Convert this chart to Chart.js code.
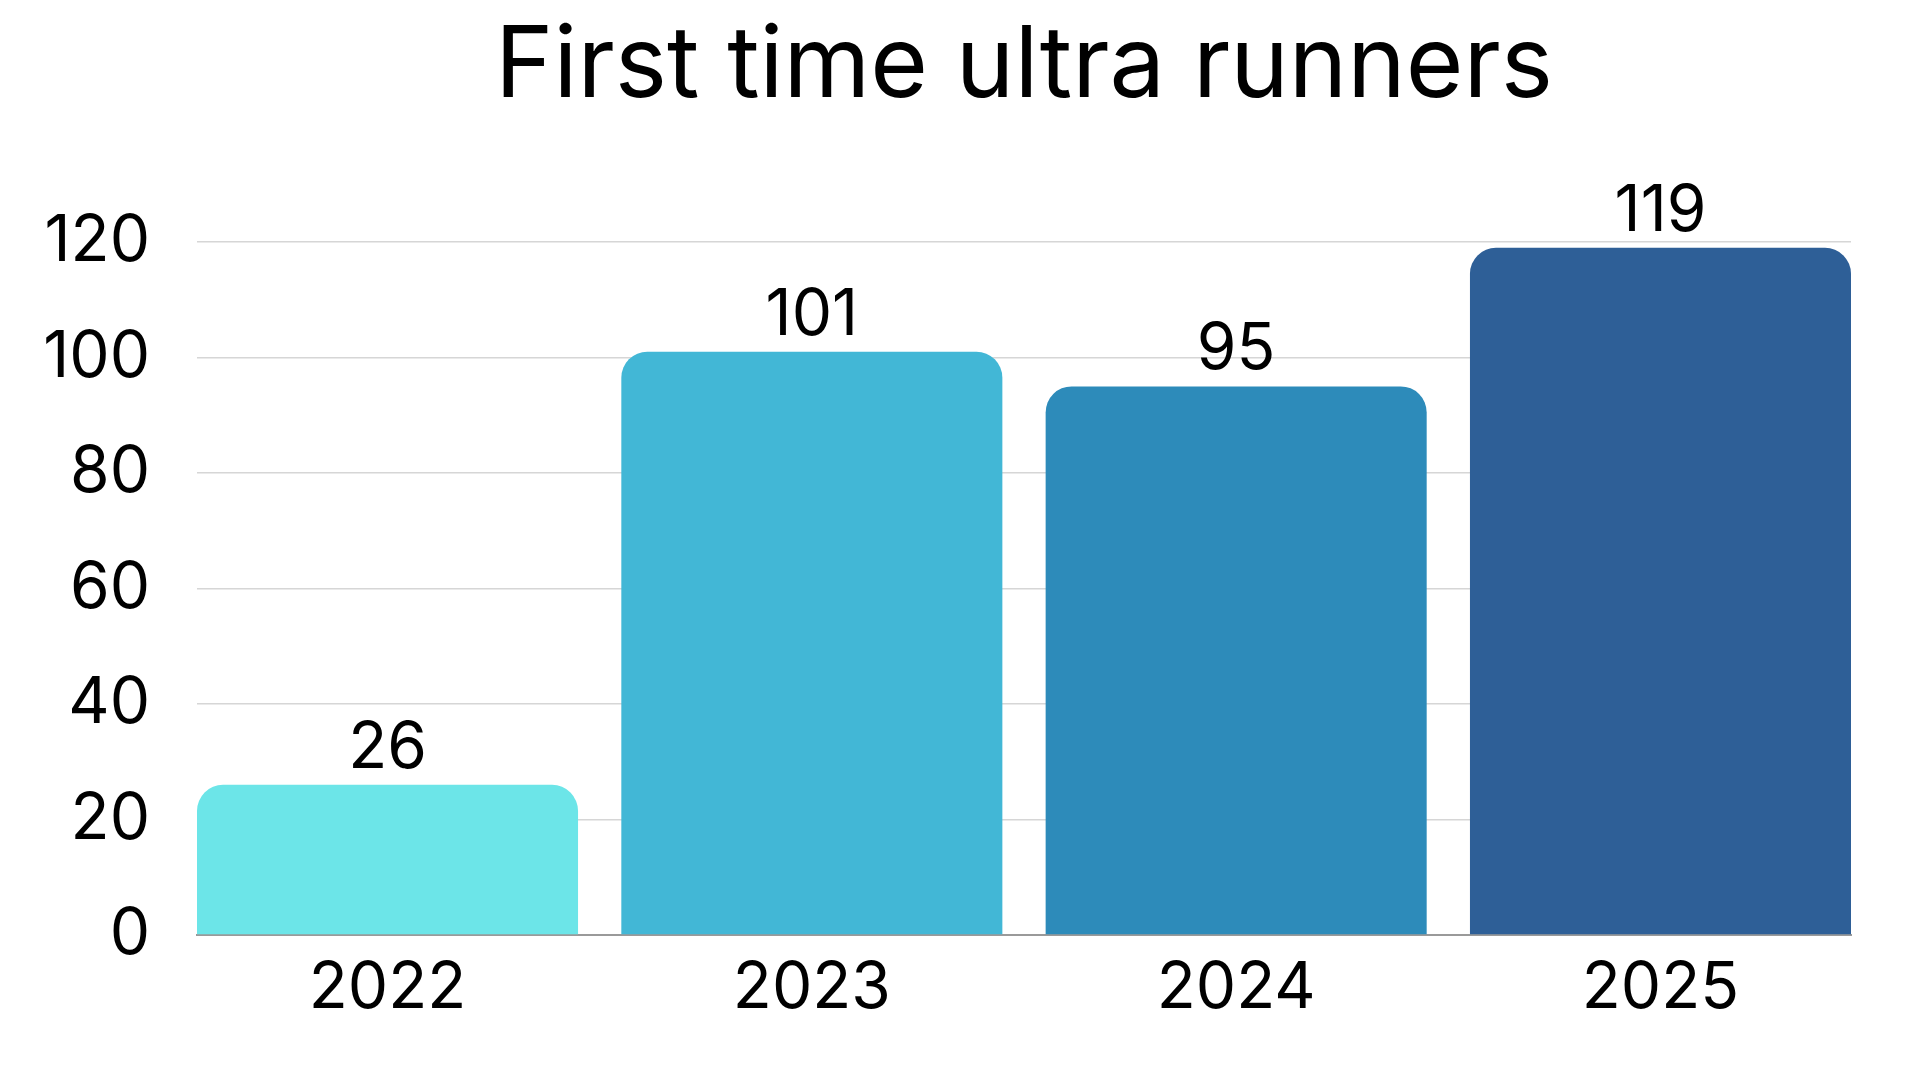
<!DOCTYPE html>
<html>
<head>
<meta charset="utf-8">
<script src="https://cdn.jsdelivr.net/npm/chart.js@4.4.1/dist/chart.umd.min.js"></script>
<style>
  html, body { margin: 0; padding: 0; background: #ffffff; }
  #wrap { width: 1920px; height: 1080px; position: relative; }
</style>
</head>
<body>
<div id="wrap"><canvas id="c" width="1920" height="1080"></canvas></div>
<script>
const chartTitle = "First time ultra runners";
const categories = ["2022", "2023", "2024", "2025"];
const runners = [26, 101, 95, 119];
const barColors = ["#6ce5e8", "#42b7d6", "#2d8bba", "#2e5f97"];
const yTicks = [0, 20, 40, 60, 80, 100, 120];

const FONT = "Inter, 'Open Sans', sans-serif";
const BAR_FRACTION = 0.898;

const valueLabels = {
  id: 'valueLabels',
  afterDatasetsDraw(chart) {
    const ctx = chart.ctx;
    const meta = chart.getDatasetMeta(0);
    ctx.save();
    ctx.font = "64px " + FONT;
    ctx.fillStyle = "#000000";
    ctx.textAlign = "center";
    ctx.textBaseline = "alphabetic";
    meta.data.forEach((bar, i) => {
      ctx.fillText(String(runners[i]), bar.x, bar.y - 17);
    });
    ctx.restore();
  }
};

new Chart(document.getElementById('c'), {
  type: 'bar',
  data: {
    datasets: [{
      data: runners.map((v, i) => ({ x: i, y: v })),
      backgroundColor: barColors,
      borderWidth: 0,
      borderRadius: 26,
      borderSkipped: 'start',
      categoryPercentage: 1,
      barPercentage: BAR_FRACTION
    }]
  },
  plugins: [valueLabels],
  options: {
    responsive: false,
    animation: false,
    devicePixelRatio: 1,
    layout: { padding: { left: 0, right: 69, top: 0, bottom: 0 } },
    plugins: {
      legend: { display: false },
      tooltip: { enabled: false },
      title: {
        display: true,
        fullSize: false,
        text: chartTitle,
        color: "#000000",
        font: { family: FONT, size: 99, weight: 'normal', lineHeight: 1.2 },
        padding: { top: 8, bottom: 115.2 }
      }
    },
    scales: {
      x: {
        type: 'linear',
        offset: false,
        min: -BAR_FRACTION / 2,
        max: categories.length - 1 + BAR_FRACTION / 2,
        afterBuildTicks(scale) {
          scale.ticks = categories.map((c, i) => ({ value: i }));
        },
        afterFit(scale) { scale.height = 145; },
        grid: { display: false, drawTicks: false, offset: false },
        border: { display: true, color: "#9a9a9a", width: 2 },
        ticks: {
          color: "#000000",
          padding: 15,
          autoSkip: false,
          maxRotation: 0,
          font: { family: FONT, size: 64 },
          callback: (v) => categories[v] !== undefined ? categories[v] : ''
        }
      },
      y: {
        min: 0,
        max: 120,
        afterBuildTicks(scale) {
          scale.ticks = yTicks.map(v => ({ value: v }));
        },
        afterFit(scale) { scale.width = 197; },
        grid: { color: "#d6d6d6", lineWidth: 1.5, drawTicks: false },
        border: { display: false },
        ticks: {
          color: "#000000",
          padding: 47,
          font: { family: FONT, size: 64 }
        }
      }
    }
  }
});
</script>
</body>
</html>
